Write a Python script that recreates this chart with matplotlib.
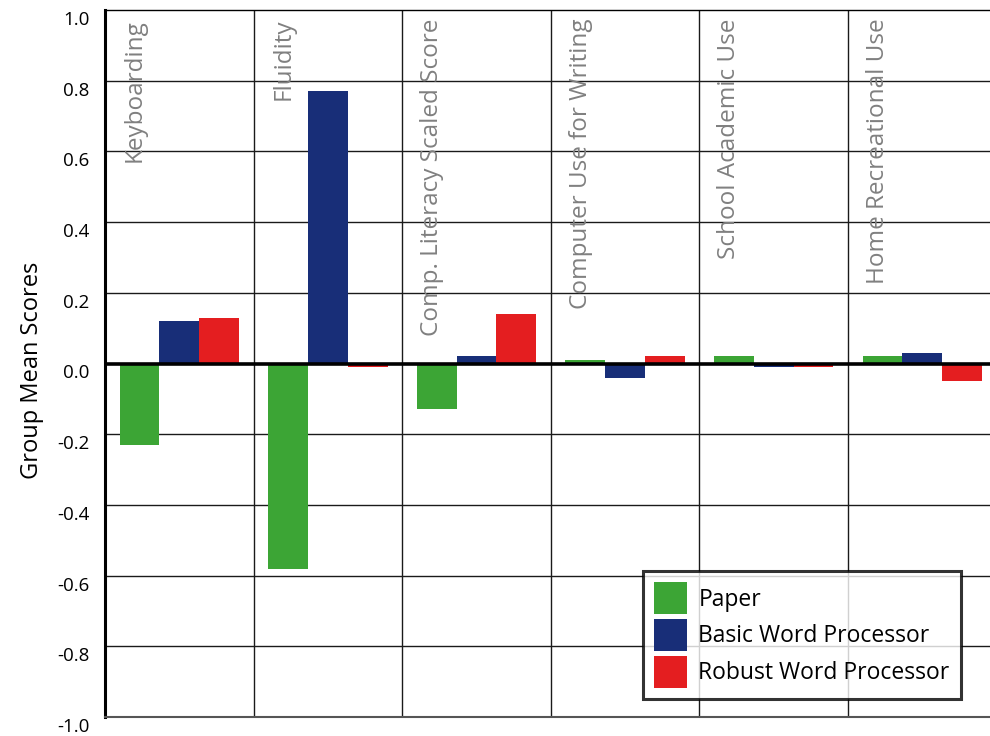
import matplotlib
matplotlib.use("Agg")
import matplotlib.pyplot as plt
import matplotlib.transforms as mtransforms
from matplotlib.patches import Patch
import numpy as np

plt.rcParams["font.family"] = ["Open Sans", "DejaVu Sans"]

categories = ["Keyboarding", "Fluidity", "Comp. Literacy Scaled Score",
              "Computer Use for Writing", "School Academic Use",
              "Home Recreational Use"]
paper = [-0.23, -0.58, -0.13, 0.01, 0.02, 0.02]
basic_wp = [0.12, 0.77, 0.02, -0.04, -0.01, 0.03]
robust_wp = [0.13, -0.01, 0.14, 0.02, -0.01, -0.05]
series_names = ["Paper", "Basic Word Processor", "Robust Word Processor"]
yticks = [1.0, 0.8, 0.6, 0.4, 0.2, 0.0, -0.2, -0.4, -0.6, -0.8, -1.0]

GREEN, BLUE, RED = "#3ca535", "#182e78", "#e41e20"
colors = [GREEN, BLUE, RED]

fig = plt.figure(figsize=(9.9, 7.36), dpi=100)
# the plot frame runs past the right edge of the page
ax = fig.add_axes([105 / 990, 1 - 717 / 736, 891.6 / 990, 707 / 736])

n = len(categories)
x = np.arange(n) + 0.5
w = 0.268
for k, (vals, c) in enumerate(zip([paper, basic_wp, robust_wp], colors)):
    ax.bar(x + (k - 1) * w, vals, width=w, color=c, zorder=3, linewidth=0)

ax.set_xlim(0, n)
ax.set_ylim(-1.0, 1.0)
ax.set_xticks([])
ax.set_yticks(yticks)
ax.set_yticklabels([f"{v:.1f}" for v in yticks], fontsize=13.5)
ax.tick_params(axis="y", length=0, pad=11)
# labels sit a little below their gridlines
off = mtransforms.ScaledTranslation(0, -8 / 100, fig.dpi_scale_trans)
for lab in ax.get_yticklabels():
    lab.set_transform(lab.get_transform() + off)

for v in yticks[1:-1]:
    if v == 0.0:
        continue
    ax.axhline(v, color="#1a1a1a", lw=1.0, zorder=1)
ax.axhline(0.0, color="black", lw=2.6, zorder=4)
for i in range(1, n):
    ax.axvline(i, color="#1a1a1a", lw=1.0, zorder=1)

ax.spines["left"].set_linewidth(2.2)
ax.spines["left"].set_color("black")
ax.spines["top"].set_linewidth(1.0)
ax.spines["bottom"].set_linewidth(1.5)
ax.spines["bottom"].set_color("#555555")
ax.spines["right"].set_visible(False)

for i, name in enumerate(categories):
    ax.text(i + 0.2, 0.975, name, rotation=90, ha="center", va="top",
            fontsize=17.5, color="#808080", zorder=5)

ax.set_ylabel("Group Mean Scores", fontsize=17)
ax.yaxis.set_label_coords(-61 / 891.6, 0.49)

handles = [Patch(facecolor=c, edgecolor="none") for c in colors]
leg = ax.legend(handles, series_names, loc="upper left",
                bbox_to_anchor=(643 / 990, 1 - 571 / 736),
                bbox_transform=fig.transFigure, fontsize=16.5,
                frameon=True, fancybox=False, borderaxespad=0,
                handlelength=1.4, handleheight=1.77, handletextpad=0.52,
                labelspacing=0.2, borderpad=0.5)
leg.get_frame().set_edgecolor("black")
leg.get_frame().set_linewidth(2.2)
leg.set_zorder(6)

fig.savefig("out.png", dpi=100)
